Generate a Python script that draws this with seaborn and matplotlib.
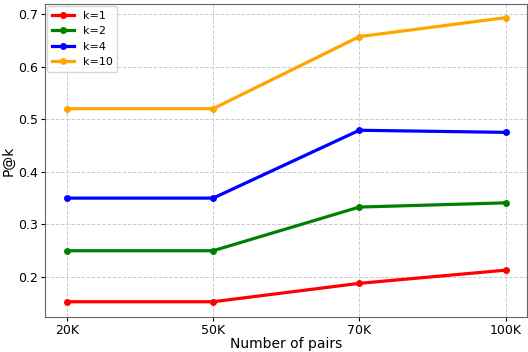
import matplotlib
matplotlib.use("Agg")
import matplotlib.pyplot as plt
import seaborn as sns
import pandas as pd

pairs = ["20K", "50K", "70K", "100K"]
k1 = [0.153, 0.153, 0.188, 0.213]
k2 = [0.250, 0.250, 0.333, 0.341]
k4 = [0.350, 0.350, 0.479, 0.475]
k10 = [0.520, 0.520, 0.657, 0.693]
series_names = ["k=1", "k=2", "k=4", "k=10"]
colors = ["red", "green", "blue", "orange"]

rows = []
for name, vals in zip(series_names, [k1, k2, k4, k10]):
    for p, v in zip(pairs, vals):
        rows.append({"pairs": p, "val": v, "k": name})
df = pd.DataFrame(rows)

fig, ax = plt.subplots(figsize=(5.28, 3.52), dpi=100)
sns.lineplot(data=df, x="pairs", y="val", hue="k", palette=colors,
             marker="o", markersize=5, markeredgewidth=0, linewidth=2.3,
             sort=False, ax=ax)
ax.grid(True, linestyle="--", color="#cccccc", linewidth=0.7)
ax.set_axisbelow(True)
for s in ax.spines.values():
    s.set_color("#666666")
ax.set_xlabel("Number of pairs", fontsize=10, labelpad=0)
ax.set_ylabel("P@k", fontsize=10, labelpad=2)
ax.tick_params(labelsize=9, pad=2, length=3)
ax.set_yticks([0.2, 0.3, 0.4, 0.5, 0.6, 0.7])
ax.set_ylim(0.124, 0.719)
ax.legend(loc="upper left", fontsize=8, borderaxespad=0.2, handlelength=2.0)
fig.subplots_adjust(left=45/528, right=0.999, bottom=1-317/352, top=1-4/352)
fig.savefig("out.png", dpi=100)
